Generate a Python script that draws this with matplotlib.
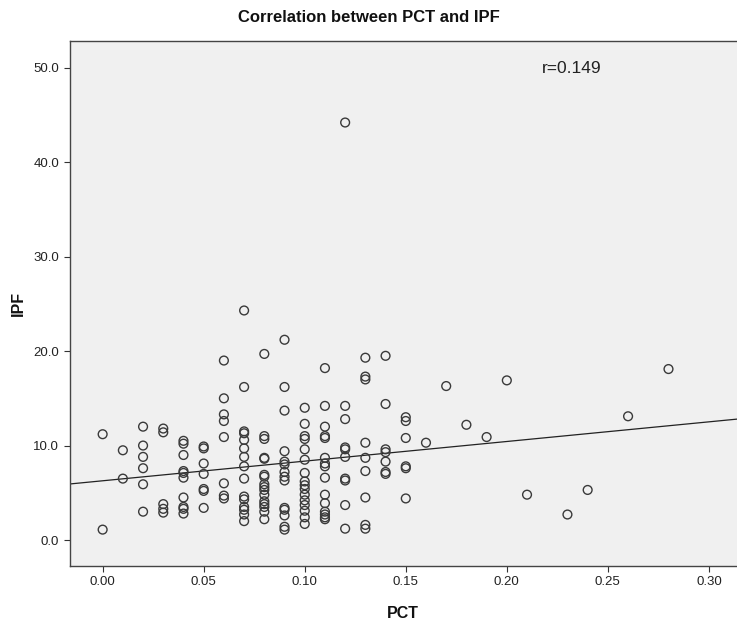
import numpy as np
import matplotlib
matplotlib.use("Agg")
import matplotlib.pyplot as plt

plt.rcParams['font.family'] = ['Liberation Sans', 'DejaVu Sans']

# PCT levels and the IPF values seen in each column
pct_levels = [0.00, 0.01, 0.02, 0.03, 0.04, 0.05, 0.06, 0.07, 0.08, 0.09,
              0.10, 0.11, 0.12, 0.13, 0.14, 0.15, 0.16, 0.17, 0.18, 0.19,
              0.20, 0.21, 0.23, 0.24, 0.26, 0.28]
ipf_by_level = [
    [11.2, 1.1],
    [9.5, 6.5],
    [12.0, 10.0, 8.8, 7.6, 5.9, 3.0],
    [11.8, 11.4, 3.8, 3.3, 2.9],
    [10.5, 10.2, 9.0, 7.3, 7.1, 6.6, 4.5, 3.5, 3.3, 2.8],
    [9.9, 9.7, 8.1, 7.0, 5.4, 5.2, 3.4],
    [19.0, 15.0, 13.3, 12.6, 10.9, 6.0, 4.7, 4.4],
    [24.3, 16.2, 11.5, 11.3, 10.6, 9.7, 8.8, 7.8, 6.5, 4.6, 4.3, 3.5, 3.2, 2.7, 2.0],
    [19.7, 11.0, 10.7, 8.7, 8.6, 6.9, 6.7, 5.9, 5.6, 5.3, 4.8, 4.1, 3.8, 3.5, 3.0, 2.2],
    [21.2, 16.2, 13.7, 9.4, 8.3, 8.0, 7.2, 6.7, 6.3, 3.4, 3.2, 2.6, 1.4, 1.1],
    [14.0, 12.3, 11.0, 10.7, 9.6, 8.5, 7.1, 6.2, 5.8, 5.4, 4.8, 4.2, 3.7, 3.1, 2.4, 1.7],
    [18.2, 14.2, 12.0, 11.0, 10.8, 8.7, 8.1, 7.8, 6.6, 4.8, 3.9, 3.0, 2.7, 2.4, 2.2],
    [44.2, 14.2, 12.8, 9.8, 9.6, 8.8, 6.5, 6.3, 3.7, 1.2],
    [19.3, 17.3, 17.0, 10.3, 8.7, 7.3, 4.5, 1.6, 1.2],
    [19.5, 14.4, 9.6, 9.3, 8.3, 7.2, 7.0],
    [13.0, 12.6, 10.8, 7.8, 7.6, 4.4],
    [10.3],
    [16.3],
    [12.2],
    [10.9],
    [16.9],
    [4.8],
    [2.7],
    [5.3],
    [13.1],
    [18.1],
]

pct = []
ipf = []
for lvl, vals in zip(pct_levels, ipf_by_level):
    pct += [lvl] * len(vals)
    ipf += vals
pct = np.array(pct)
ipf = np.array(ipf)

# fit line
fit_intercept = 6.27
fit_slope = 20.8
r_text = "r=0.149"

fig = plt.figure(figsize=(7.37, 6.24), dpi=100)
ax = fig.add_axes([69.5 / 737, 58.3 / 624, 1 - 69.5 / 737, 524.7 / 624])
ax.set_facecolor('#f0f0f0')

xmin, xmax = -0.0164, 0.3139
ax.set_xlim(xmin, xmax)
ax.set_ylim(-2.72, 52.83)

ax.scatter(pct, ipf, s=40, facecolors='none', edgecolors='#3a3a3a',
           linewidths=1.0, zorder=3)

xs = np.array([xmin, xmax])
ax.plot(xs, fit_intercept + fit_slope * xs, color='#222222', lw=0.9, zorder=2)

ax.text(0.2172, 49.94, r_text, fontsize=12.5, ha='left', va='center', color='#222222')

ax.set_xticks([0.00, 0.05, 0.10, 0.15, 0.20, 0.25, 0.30])
ax.set_xticklabels(['0.00', '0.05', '0.10', '0.15', '0.20', '0.25', '0.30'])
ax.set_yticks([0, 10, 20, 30, 40, 50])
ax.set_yticklabels(['0.0', '10.0', '20.0', '30.0', '40.0', '50.0'])
ax.tick_params(direction='out', length=4.5, width=0.8, color='#333333',
               labelsize=9.5, labelcolor='#222222', pad=3)

for side in ['left', 'bottom', 'top']:
    ax.spines[side].set_color('#444444')
    ax.spines[side].set_linewidth(1.0)
ax.spines['right'].set_visible(False)

fig.text(369 / 737, 1 - 18 / 624, 'Correlation between PCT and IPF',
         ha='center', va='center', fontsize=12, fontweight='bold', color='#111111')
fig.text(403 / 737, 1 - 613 / 624, 'PCT', ha='center', va='center',
         fontsize=11.5, fontweight='bold', color='#111111')
fig.text(18 / 737, 1 - 303 / 624, 'IPF', ha='center', va='center', rotation=90,
         fontsize=11.5, fontweight='bold', color='#111111')

fig.savefig('out.png', dpi=100)
